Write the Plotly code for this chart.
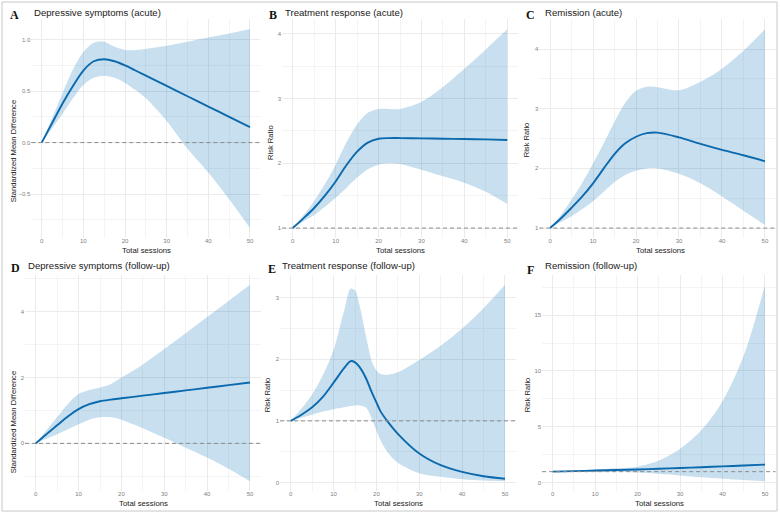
import plotly.graph_objects as go

W, H = 780, 514

# ---------------- data ----------------
A_x = [0, 2.5, 5, 7.5, 10, 12.5, 15, 17.5, 20, 22.5, 25, 30, 35, 40, 45, 50]
A_mean = [0, 0.19, 0.38, 0.55, 0.70, 0.79, 0.81, 0.79, 0.75, 0.70, 0.65, 0.55, 0.45, 0.35, 0.25, 0.15]
A_upper = [0, 0.24, 0.48, 0.71, 0.88, 0.97, 0.98, 0.93, 0.90, 0.90, 0.91, 0.94, 0.98, 1.02, 1.06, 1.10]
A_lower = [0, 0.14, 0.28, 0.43, 0.56, 0.63, 0.65, 0.63, 0.58, 0.51, 0.43, 0.21, -0.06, -0.29, -0.55, -0.83]

B_x = [0, 2.5, 5, 7.5, 10, 12.5, 15, 17.5, 20, 22.5, 25, 30, 35, 40, 45, 50]
B_mean = [1, 1.15, 1.31, 1.50, 1.72, 1.97, 2.18, 2.32, 2.38, 2.39, 2.39, 2.385, 2.38, 2.375, 2.37, 2.36]
B_upper = [1, 1.20, 1.42, 1.68, 1.98, 2.32, 2.60, 2.78, 2.84, 2.84, 2.84, 2.95, 3.18, 3.46, 3.76, 4.07]
B_lower = [1, 1.10, 1.20, 1.33, 1.47, 1.62, 1.78, 1.91, 1.98, 2.00, 1.99, 1.90, 1.80, 1.70, 1.56, 1.37]

C_x = [0, 2.5, 5, 7.5, 10, 12.5, 15, 17.5, 20, 22.5, 25, 30, 35, 40, 45, 50]
C_mean = [1, 1.16, 1.34, 1.53, 1.75, 2.00, 2.24, 2.42, 2.53, 2.59, 2.60, 2.52, 2.41, 2.31, 2.22, 2.12]
C_upper = [1, 1.22, 1.48, 1.76, 2.08, 2.42, 2.78, 3.10, 3.30, 3.37, 3.36, 3.31, 3.45, 3.67, 3.97, 4.33]
C_lower = [1, 1.10, 1.20, 1.32, 1.45, 1.61, 1.77, 1.89, 1.96, 2.00, 2.00, 1.91, 1.75, 1.53, 1.29, 1.05]

D_x = [0, 2.5, 5, 7.5, 10, 12.5, 15, 17.5, 20, 25, 30, 35, 40, 45, 50]
D_mean = [0, 0.28, 0.55, 0.82, 1.04, 1.19, 1.28, 1.33, 1.37, 1.45, 1.53, 1.61, 1.69, 1.77, 1.85]
D_upper = [0, 0.40, 0.80, 1.20, 1.50, 1.62, 1.70, 1.80, 2.00, 2.40, 2.87, 3.35, 3.84, 4.33, 4.82]
D_lower = [0, 0.14, 0.28, 0.43, 0.58, 0.72, 0.79, 0.79, 0.72, 0.46, 0.17, -0.13, -0.43, -0.77, -1.15]

E_x = [0, 2.5, 5, 7.5, 10, 12.5, 14, 15, 16, 17.5, 19, 20, 21, 22.5, 25, 30, 35, 40, 45, 50]
E_mean = [1, 1.10, 1.22, 1.39, 1.62, 1.86, 1.97, 1.95, 1.88, 1.70, 1.45, 1.30, 1.15, 1.00, 0.79, 0.47, 0.28, 0.17, 0.10, 0.06]
E_upper = [1, 1.20, 1.43, 1.74, 2.15, 2.80, 3.15, 3.12, 2.90, 2.40, 1.95, 1.82, 1.76, 1.75, 1.79, 1.99, 2.22, 2.50, 2.83, 3.21]
E_lower = [1, 1.05, 1.10, 1.15, 1.19, 1.22, 1.24, 1.25, 1.25, 1.22, 1.02, 0.84, 0.68, 0.50, 0.32, 0.15, 0.09, 0.05, 0.03, 0.02]

F_x = [0, 5, 10, 15, 20, 25, 30, 35, 40, 45, 50]
F_mean = [1, 1.05, 1.10, 1.15, 1.20, 1.26, 1.33, 1.40, 1.47, 1.55, 1.63]
F_upper = [1, 1.08, 1.18, 1.30, 1.45, 2.00, 3.05, 4.70, 7.30, 11.40, 17.70]
F_lower = [1, 0.99, 0.98, 0.96, 0.93, 0.82, 0.66, 0.50, 0.37, 0.25, 0.15]

letters = ["A", "B", "C", "D", "E", "F"]
titles = ["Depressive symptoms (acute)", "Treatment response (acute)", "Remission (acute)",
          "Depressive symptoms (follow-up)", "Treatment response (follow-up)", "Remission (follow-up)"]
y_labels = ["Standardized Mean Difference", "Risk Ratio", "Risk Ratio",
            "Standardized Mean Difference", "Risk Ratio", "Risk Ratio"]
x_label = "Total sessions"
ref_values = [0, 1, 1, 0, 1, 1]
y_dticks = [0.5, 1, 1, 2, 1, 5]
x_ticks = [0, 10, 20, 30, 40, 50]

series = [
    (A_x, A_mean, A_lower, A_upper),
    (B_x, B_mean, B_lower, B_upper),
    (C_x, C_mean, C_lower, C_upper),
    (D_x, D_mean, D_lower, D_upper),
    (E_x, E_mean, E_lower, E_upper),
    (F_x, F_mean, F_lower, F_upper),
]

# ---------------- layout (pixel boxes of panels) ----------------
# (left, top, right, bottom) in pixels
boxes = [
    (31.3, 19.4, 260.4, 238.0),
    (282.0, 19.4, 518.0, 238.0),
    (539.3, 19.4, 775.7, 238.0),
    (25.0, 275.0, 260.7, 491.0),
    (280.0, 275.0, 515.7, 491.0),
    (542.1, 275.0, 775.6, 491.0),
]
letter_pos = [(14.2, 15.3), (273, 14.8), (530, 15), (15.5, 268), (271.7, 268.5), (530.3, 270.3)]
title_pos = [(31.7, 12.3), (283.3, 12.0), (542.7, 12.0), (26.0, 265.0), (280.0, 265.0), (542.7, 265.5)]
ylab_pos = [(13.3, 151), (270.0, 143), (527.3, 140), (13.3, 422), (267.3, 395), (527.3, 395)]
xlab_pos = [(146.0, 250.5), (400.5, 250.5), (660.0, 250.0), (143.0, 503.5), (398.0, 503.5), (659.0, 503.5)]

LINE = "#0b69ad"
BAND = "rgba(0,110,180,0.22)"
GRID = "#ebebeb"
GRID_MINOR = "#f4f4f4"
FONT = "Liberation Sans, Arial, sans-serif"


def px_x(p):
    return p / W


def px_y(p):
    return 1 - p / H


fig = go.Figure()
shapes = []
annotations = []

for i, (xs, mean, lo, hi) in enumerate(series):
    n = i + 1
    xa = "x" if n == 1 else f"x{n}"
    ya = "y" if n == 1 else f"y{n}"
    fig.add_trace(go.Scatter(x=xs, y=lo, mode="lines", line=dict(width=0, shape="spline", smoothing=0.9),
                             xaxis=xa, yaxis=ya, showlegend=False, hoverinfo="skip"))
    fig.add_trace(go.Scatter(x=xs, y=hi, mode="lines", line=dict(width=0, shape="spline", smoothing=0.9),
                             fill="tonexty", fillcolor=BAND,
                             xaxis=xa, yaxis=ya, showlegend=False, hoverinfo="skip"))
    fig.add_trace(go.Scatter(x=xs, y=mean, mode="lines",
                             line=dict(width=1.9, color=LINE, shape="spline", smoothing=0.9),
                             xaxis=xa, yaxis=ya, showlegend=False, hoverinfo="skip"))

    # ggplot-like 5% expansion
    ymin = min(min(lo), ref_values[i])
    ymax = max(max(hi), ref_values[i])
    pad = (ymax - ymin) * 0.05
    yr = [ymin - pad, ymax + pad]
    xmin, xmax = min(xs), max(xs)
    xpad = (xmax - xmin) * 0.05
    xr = [xmin - xpad, xmax + xpad]

    l, t, r, b = boxes[i]
    xkey = "xaxis" if n == 1 else f"xaxis{n}"
    ykey = "yaxis" if n == 1 else f"yaxis{n}"
    dt = y_dticks[i]
    fig.layout[xkey] = dict(
        domain=[px_x(l), px_x(r)], range=xr, anchor=ya, tickvals=x_ticks,
        showgrid=True, gridcolor=GRID, gridwidth=1, zeroline=False, showline=False, ticks="",
        minor=dict(dtick=5, tick0=0, showgrid=True, gridcolor=GRID_MINOR, gridwidth=0.6),
        tickfont=dict(size=6, color="#808080", family=FONT), fixedrange=True,
        ticklabelstandoff=-2,
    )
    fig.layout[ykey] = dict(
        domain=[px_y(b), px_y(t)], range=yr, anchor=xa, dtick=dt, tick0=0,
        tickformat=".1f" if dt < 1 else "d",
        showgrid=True, gridcolor=GRID, gridwidth=1, zeroline=False, showline=False, ticks="",
        minor=dict(dtick=dt / 2, tick0=0, showgrid=True, gridcolor=GRID_MINOR, gridwidth=0.6),
        tickfont=dict(size=6, color="#808080", family=FONT), fixedrange=True,
    )

    shapes.append(dict(type="line", xref=f"{xa} domain", yref=ya, x0=0, x1=1,
                       y0=ref_values[i], y1=ref_values[i], layer="above",
                       line=dict(color="#8c8c8c", width=1, dash="4px,3px")))

    lx, ly = letter_pos[i]
    annotations.append(dict(text=f"<b>{letters[i]}</b>", x=px_x(lx), y=px_y(ly), xref="paper", yref="paper",
                            xanchor="center", yanchor="middle", showarrow=False,
                            font=dict(family="Liberation Serif, Times New Roman, serif", size=12, color="#111")))
    tx, ty = title_pos[i]
    annotations.append(dict(text=titles[i], x=px_x(tx), y=px_y(ty), xref="paper", yref="paper",
                            xanchor="left", yanchor="middle", showarrow=False,
                            font=dict(family=FONT, size=9.6, color="#1a1a1a")))
    yx, yy = ylab_pos[i]
    annotations.append(dict(text=y_labels[i], x=px_x(yx), y=px_y(yy), xref="paper", yref="paper",
                            xanchor="center", yanchor="middle", textangle=-90, showarrow=False,
                            font=dict(family=FONT, size=7.6, color="#1a1a1a")))
    xx, xy = xlab_pos[i]
    annotations.append(dict(text=x_label, x=px_x(xx), y=px_y(xy), xref="paper", yref="paper",
                            xanchor="center", yanchor="middle", showarrow=False,
                            font=dict(family=FONT, size=7.8, color="#1a1a1a")))

# outer frame
shapes.append(dict(type="rect", xref="paper", yref="paper", x0=px_x(2), x1=px_x(777), y0=px_y(511), y1=px_y(2),
                   line=dict(color="#c8c8c8", width=1), layer="above"))

fig.update_layout(
    width=W, height=H, margin=dict(l=0, r=0, t=0, b=0),
    paper_bgcolor="white", plot_bgcolor="white",
    font=dict(family=FONT),
    shapes=shapes, annotations=annotations, showlegend=False,
)

fig.write_html("out.html", config={"displayModeBar": False})
